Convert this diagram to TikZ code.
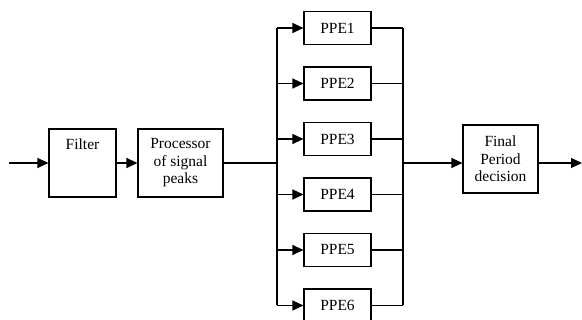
\documentclass[tikz,border=0pt]{standalone}
\usepackage{fontspec}
\setmainfont{Liberation Serif}
\usetikzlibrary{arrows.meta}
\begin{document}
\begin{tikzpicture}[x=1pt,y=-1pt,
  line width=1.1pt,
  >={Triangle[length=11pt,width=10pt]},
  txt/.style={font=\fontsize{15.5}{17.5}\selectfont},
  box/.style={draw, line width=1.1pt, inner sep=0pt, align=center, txt},
  bigbox/.style={box, minimum height=68pt},
  ppebox/.style={box, minimum width=67pt, minimum height=33pt},
  wire/.style={draw, line width=1.1pt},
  arr/.style={wire, ->}
]
\useasboundingbox (0,0) rectangle (582,320);

\coordinate (in) at (9,163);
\node[bigbox, minimum width=67pt,
  label={[txt, anchor=north, yshift=-10pt, inner sep=0pt]north:Filter}] (filter) at (82.5,163) {};
\node[bigbox, minimum width=85pt] (proc) at (180.5,163) {Processor\\of signal\\peaks};
\node[bigbox, minimum width=75pt] (final) at (500.5,159) {Final\\Period\\decision};
\coordinate (out) at (582,163);

\coordinate (lbtop) at (277,28);
\coordinate (lbbot) at (277,305.5);
\coordinate (rbtop) at (403,28);
\coordinate (rbbot) at (403,305.5);
\coordinate (lbin) at (277,163);
\coordinate (rbout) at (403,163);

\foreach \i/\y in {1/28,2/83.5,3/139,4/194.5,5/250,6/305.5}{
  \node[ppebox] (ppe\i) at (337.5,\y) {PPE\i};
  \coordinate (l\i) at (277,\y);
  \coordinate (r\i) at (403,\y);
  \draw[arr] (l\i) -- (ppe\i.west);
  \draw[wire] (ppe\i.east) -- (r\i);
}

\draw[arr] (in) -- (filter.west);
\draw[arr] (filter.east) -- (proc.west);
\draw[wire] (proc.east) -- (lbin);
\draw[wire] (lbtop) -- (lbbot);
\draw[wire] (rbtop) -- (rbbot);
\draw[arr] (rbout) -- (final.west |- rbout);
\draw[arr] (final.east |- out) -- (out);
\end{tikzpicture}
\end{document}
